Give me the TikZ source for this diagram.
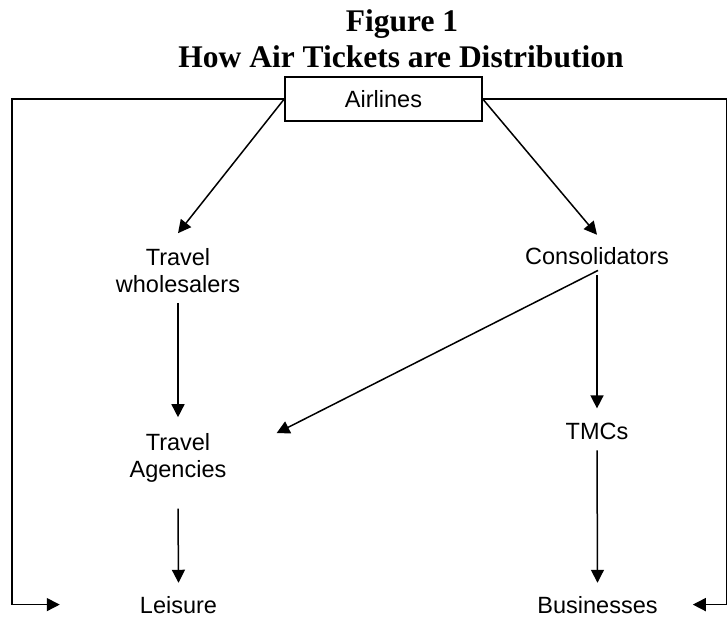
\documentclass[tikz,border=0pt]{standalone}
\usepackage{fontspec}
\usetikzlibrary{arrows.meta}
\newfontfamily\arialf{Liberation Sans}
\newfontfamily\timesf{Liberation Serif}
\begin{document}
\begin{tikzpicture}[x=1pt,y=-1pt,
  conn/.style={line width=1.5pt, line join=miter},
  arr/.style={conn, -{Triangle[length=13pt,width=13pt]}},
  ttl/.style={font=\timesf\bfseries\fontsize{31.5}{35}\selectfont, inner sep=0pt, anchor=base},
  lbl/.style={font=\arialf\fontsize{23.5}{27}\selectfont, inner sep=0pt, align=center},
  boxn/.style={draw, line width=1.5pt, minimum width=197pt, minimum height=44pt,
     font=\arialf\fontsize{23.5}{27}\selectfont, text height=16.8pt, text depth=0pt, inner sep=0pt}]
\useasboundingbox (0,0) rectangle (727,617);
% titles
\node[ttl] (t1) at (402,32) {Figure 1};
\node[ttl] (t2) at (401,68) {How Air Tickets are Distribution};
% nodes
\node[boxn] (air) at (383.5,99) {Airlines};
\node[lbl, anchor=north] (whole) at (178,248.2) {Travel\\wholesalers};
\node[lbl, anchor=base] (cons) at (597,265) {Consolidators};
\node[lbl, anchor=north] (agen) at (178,433.2) {Travel\\Agencies};
\node[lbl, anchor=base] (tmc) at (597,439) {TMCs};
\node[lbl, anchor=base] (leis) at (178.5,613) {Leisure};
\node[lbl, anchor=base] (bus) at (597.5,613) {Businesses};
\coordinate (lc) at (12,99);
\coordinate (rc) at (727,99);
% connectors
\draw[arr] (air.west) -- ([yshift=15pt]whole.north);
\draw[arr] (air.east) -- ([yshift=13pt]cons.north);
\draw[arr] (air.west) -- (lc) |- ([xshift=-80pt]leis.west);
\draw[arr] (air.east) -- (rc) |- ([xshift=35pt]bus.east);
\draw[arr] ([yshift=-10pt]whole.south) -- ([yshift=16pt]agen.north);
\draw[arr] ([yshift=-10pt]cons.south) -- ([yshift=14pt]tmc.north);
\draw[arr] ([yshift=-5pt,xshift=1pt]cons.south) -- ([xshift=50pt]agen.north east);
\draw[arr] ([yshift=-26pt]agen.south) -- ([yshift=13pt]leis.north);
\draw[arr] ([yshift=-11pt]tmc.south) -- ([yshift=13pt]bus.north);
\end{tikzpicture}
\end{document}
